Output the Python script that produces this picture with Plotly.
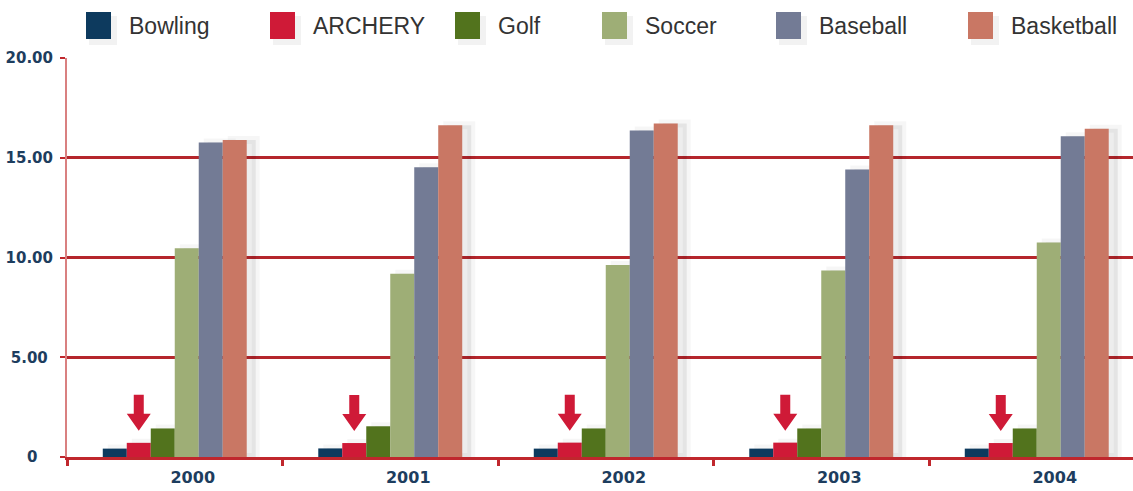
import plotly.graph_objects as go

# ---------------- data ----------------
years = ["2000", "2001", "2002", "2003", "2004"]
series_names = ["Bowling", "ARCHERY", "Golf", "Soccer", "Baseball", "Basketball"]
bowling = [0.42, 0.43, 0.42, 0.42, 0.42]
archery = [0.71, 0.70, 0.72, 0.72, 0.70]
golf = [1.43, 1.54, 1.43, 1.43, 1.43]
soccer = [10.46, 9.18, 9.63, 9.35, 10.75]
baseball = [15.77, 14.52, 16.37, 14.41, 16.08]
basketball = [15.89, 16.63, 16.72, 16.63, 16.45]
y_tick_values = [0, 5, 10, 15, 20]
y_tick_labels = ["0", "5.00", "10.00", "15.00", "20.00"]

series_values = [bowling, archery, golf, soccer, baseball, basketball]
colors = ["#0d3a5e", "#cf1a37", "#52731d", "#9eae76", "#737b95", "#c97764"]

# ---------------- layout geometry ----------------
W, H = 1133, 491
ML, MR, MT, MB = 67, 0, 58, 34
plot_w = W - ML - MR
plot_h = H - MT - MB
cat_px = 215.5                       # pixel width of one category
x_lo = -0.5
x_hi = x_lo + plot_w / cat_px
y_lo, y_hi = 0, 20
unit_px = plot_h / (y_hi - y_lo)
bargap = 0.332
n_series = len(series_names)
shadow_shift = 9 / cat_px

grid_red = "#b5262c"
axis_red = "#c0272d"
navy = "#1d3d5e"

fig = go.Figure()

# soft shadows (drawn on the base axis, shifted right)
for name, vals in zip(series_names, series_values):
    fig.add_trace(go.Bar(
        x=years, y=vals, name=name, xaxis="x", yaxis="y",
        marker=dict(color="rgba(0,0,0,0.07)",
                    line=dict(color="rgba(0,0,0,0.035)", width=8)),
        showlegend=False, hoverinfo="skip"))

# real bars
for name, vals, col in zip(series_names, series_values, colors):
    fig.add_trace(go.Bar(
        x=years, y=vals, name=name, xaxis="x2", yaxis="y",
        marker=dict(color=col, line=dict(width=0)),
        showlegend=False))

# red arrows over the ARCHERY bars
arch_idx = series_names.index("ARCHERY")
group_w = 1 - bargap
bar_w = group_w / n_series
shapes = []
tip_gap, head_h, shaft_h = 12, 17, 19      # px
head_hw, shaft_hw = 12, 5                   # px
for i, v in enumerate(archery):
    cx = i - group_w / 2 + (arch_idx + 0.5) * bar_w
    tip = v + tip_gap / unit_px
    hb = tip + head_h / unit_px
    top = hb + shaft_h / unit_px
    hw = head_hw / cat_px
    sw = shaft_hw / cat_px
    path = (f"M {cx},{tip} L {cx - hw},{hb} L {cx - sw},{hb} L {cx - sw},{top} "
            f"L {cx + sw},{top} L {cx + sw},{hb} L {cx + hw},{hb} Z")
    shapes.append(dict(type="path", path=path, xref="x2", yref="y",
                       fillcolor=colors[arch_idx], line=dict(width=0), layer="above"))

# manual legend (large squares like the reference)
legend_left_px = [86, 270, 455, 602, 776, 968]
sq_w, sq_top, sq_bot = 25, 12, 39
annotations = []
def px_to_paper_x(px):
    return (px - ML) / plot_w
def py_to_paper_y(py):
    return (H - MB - py) / plot_h
for name, col, lx in zip(series_names, colors, legend_left_px):
    shapes.append(dict(type="rect", xref="paper", yref="paper",
                       x0=px_to_paper_x(lx + 3), x1=px_to_paper_x(lx + sq_w + 6),
                       y0=py_to_paper_y(sq_bot + 6), y1=py_to_paper_y(sq_top + 4),
                       fillcolor="rgba(0,0,0,0.05)", line=dict(width=0), layer="above"))
    shapes.append(dict(type="rect", xref="paper", yref="paper",
                       x0=px_to_paper_x(lx), x1=px_to_paper_x(lx + sq_w),
                       y0=py_to_paper_y(sq_bot), y1=py_to_paper_y(sq_top),
                       fillcolor=col, line=dict(width=0), layer="above"))
    annotations.append(dict(text=name, xref="paper", yref="paper",
                            x=px_to_paper_x(lx + 41), y=py_to_paper_y(26),
                            xanchor="left", yanchor="middle", showarrow=False,
                            font=dict(family="Liberation Sans, Arial, sans-serif",
                                      size=23, color="#333333")))

# y tick labels roughly centred as in the reference
longest = max(len(t) for t in y_tick_labels)
def pad(t):
    return t + "\u00a0" * round((longest - len(t)) * 0.75)
y_text = [pad(t) for t in y_tick_labels]

fig.update_layout(
    width=W, height=H,
    margin=dict(l=ML, r=MR, t=MT, b=MB, pad=0, autoexpand=False),
    paper_bgcolor="white", plot_bgcolor="white",
    barmode="group", bargap=bargap, bargroupgap=0,
    showlegend=False,
    xaxis=dict(type="category", range=[x_lo - shadow_shift, x_hi - shadow_shift],
               visible=False, fixedrange=True, automargin=False),
    xaxis2=dict(type="category", overlaying="x", anchor="y", side="bottom",
                range=[x_lo, x_hi], showgrid=False, automargin=False,
                showline=True, linecolor=axis_red, linewidth=3,
                ticks="outside", tickson="boundaries", ticklen=6, tickwidth=3,
                tickcolor=axis_red, ticklabelshift=18, ticklabelstandoff=4,
                tickfont=dict(family="DejaVu Sans", size=16, color=navy, weight="bold")),
    yaxis=dict(range=[y_lo, y_hi], tickvals=y_tick_values, ticktext=y_text,
               automargin=False,
               showgrid=True, gridcolor=grid_red, gridwidth=3, zeroline=False,
               showline=True, linecolor="#d98080", linewidth=2,
               ticks="outside", ticklen=5, tickwidth=2, tickcolor=axis_red,
               ticklabelstandoff=4,
               tickfont=dict(family="DejaVu Sans", size=15, color=navy,
                             weight="bold")),
    shapes=shapes,
    annotations=annotations,
)

fig.write_html("out.html",
               config={"displayModeBar": False},
               post_script="document.body.style.margin='0px';document.body.style.overflow='hidden';")
